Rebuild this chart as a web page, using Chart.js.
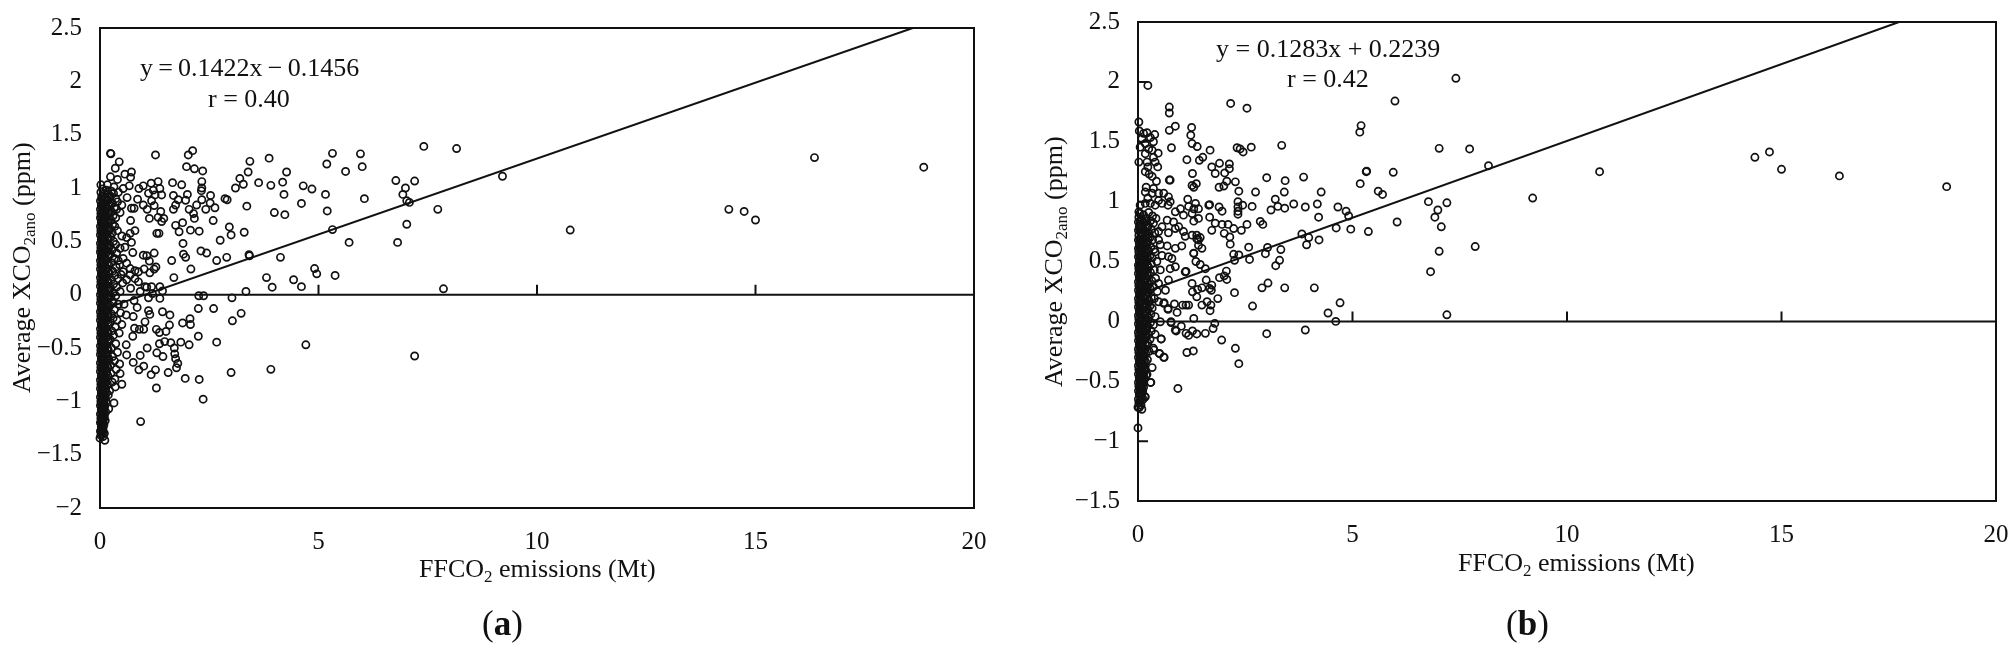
<!DOCTYPE html>
<html>
<head>
<meta charset="utf-8">
<title>XCO2 anomaly vs FFCO2 emissions</title>
<script src="https://cdn.jsdelivr.net/npm/chart.js@4"></script>
<style>
  html, body { margin: 0; padding: 0; background: #fff; }
  body { width: 2015px; height: 652px; position: relative; overflow: hidden; font-family: "Liberation Serif", serif; color: #111; }
  .box { position: absolute; top: 0; height: 652px; }
  .txt { position: absolute; font-size: 26px; line-height: 1; white-space: nowrap; }
  .txt sub { font-size: 17px; line-height: 0; vertical-align: -5px; }
  .rot { transform-origin: 0 0; transform: rotate(-90deg); }
  .cap { font-size: 35px; }
</style>
</head>
<body>
<div class="box" style="left:0;width:1005px"><canvas id="chartA"></canvas></div>
<div class="box" style="left:1030px;width:985px"><canvas id="chartB"></canvas></div>

<div class="txt" style="left:140px;top:55px;word-spacing:-1.3px">y = 0.1422x − 0.1456</div>
<div class="txt" style="left:208px;top:86px">r = 0.40</div>
<div class="txt rot" style="left:9px;top:393px">Average XCO<sub>2ano</sub> (ppm)</div>
<div class="txt" style="left:419px;top:556px">FFCO<sub>2</sub> emissions (Mt)</div>
<div class="txt cap" style="left:482px;top:606px">(<b>a</b>)</div>

<div class="txt" style="left:1216px;top:36px">y = 0.1283x + 0.2239</div>
<div class="txt" style="left:1287px;top:66px">r = 0.42</div>
<div class="txt rot" style="left:1041px;top:387px">Average XCO<sub>2ano</sub> (ppm)</div>
<div class="txt" style="left:1458px;top:550px">FFCO<sub>2</sub> emissions (Mt)</div>
<div class="txt cap" style="left:1506px;top:606px">(<b>b</b>)</div>

<script>
// panel (a) as [FFCO2, XCO2ano]
const scatterA = [
  [1.27,1.31],[2.02,1.31],[2.12,1.35],[1.98,1.2],[2.16,1.18],[2.35,1.16],[2.33,1.06],[2.33,1],[2.32,.975],[1.66,1.05],
  [1.87,1.03],[1.68,.93],[2,.94],[1.79,.89],[1.96,.885],[2.33,.89],[2.53,.93],[2.21,.84],[2.52,.86],[2.42,.8],
  [2.63,.815],[2.04,.8],[1.68,.8],[1.73,.84],[2.14,.76],[2.16,.715],[1.73,.65],[1.89,.675],[1.81,.59],[2.07,.605],
  [2.27,.595],[2.59,.695],[1.9,.48],[1.91,.38],[1.96,.35],[1.64,.32],[2.31,.41],[2.44,.39],[2.67,.32],[2.9,.35],
  [2.08,.24],[1.69,.16],[2.75,.51],[2.96,.635],[3,.56],[3.3,.585],[3.36,.83],[2.86,.9],[2.91,.89],[3.1,1],
  [3.2,1.09],[3.28,1.035],[3.39,1.15],[3.43,1.25],[3.63,1.05],[3.87,1.28],[3.91,1.025],[4.18,1.055],[4.27,1.15],[4.21,.94],
  [3.99,.77],[4.23,.75],[4.61,.855],[4.65,1.02],[4.85,.99],[5.16,.94],[5.2,.785],[5.19,1.225],[5.32,1.325],[5.62,1.155],
  [5.96,1.32],[6,1.2],[6.05,.9],[5.32,.61],[5.7,.49],[3.42,.365],[3.41,.375],[4.13,.35],[3.81,.16],[3.94,.07],
  [4.43,.14],[4.61,.075],[4.91,.245],[4.96,.195],[5.38,.18],[3.34,.03],[6.77,1.07],[6.99,1],[7.2,1.065],[6.93,.94],
  [7.02,.88],[7.08,.865],[7.73,.8],[7.02,.66],[6.81,.49],[7.41,1.39],[8.16,1.37],[7.86,.055],[9.21,1.11],[10.76,.606],
  [14.39,.8],[14.74,.78],[15,.7],[16.35,1.285],[18.85,1.195],
  [2.26,-.01],[2.37,-.01],[3.02,-.03],[2.6,-.13],[2.25,-.13],[3.23,-.175],[3.03,-.245],[2.06,-.225],[1.89,-.265],[2.07,-.28],
  [1.6,-.19],[1.43,-.16],[1.11,-.15],[1.14,-.185],[1.59,-.285],[1.29,-.325],[1.36,-.355],[1.51,-.345],[2.25,-.39],[2.67,-.445],
  [1.85,-.445],[2.04,-.47],[1.36,-.46],[1.48,-.44],[1.62,-.45],[1.7,-.5],[1.71,-.555],[1.73,-.6],[1.78,-.645],[1.75,-.685],
  [1.08,-.5],[1.3,-.545],[1.44,-.58],[.92,-.57],[.76,-.635],[1,-.67],[.89,-.705],[1.27,-.705],[1.17,-.75],[1.56,-.73],
  [1.29,-.875],[1.95,-.785],[2.27,-.795],[2.36,-.98],[3,-.73],[3.91,-.7],[4.71,-.47],[7.2,-.575],[.93,-1.19],[.11,-1.365],
  [0,-1.345],[.32,-1.015],[.5,-.84],[.35,-.865],[.19,-.94],[.2,-1.07],[.75,-.39],[.6,-.47],[.61,-.565],[.45,-.65],
  [.46,-.74],[.34,-.79],[.79,-.315],[1,-.325],[.9,-.325],[1.03,-.255],[.76,-.205],[.85,-.12],[.78,-.055],[.6,-.19],
  [.55,-.09],[.3,-.08],[1.37,.075],[1.43,.035],[1.37,-.035],[1.11,-.03],[1.07,.07],[1.2,.01],
  [.24,1.325],[.25,1.32],[.44,1.245],[.35,1.185],[.24,1.105],[.4,1.08],[.57,1.13],[.72,1.15],[.7,1.1],[.02,1.03],
  [.17,1.03],[.32,1.01],[.53,.995],[.67,1.02],[.62,.91],[.86,.895],[.89,.995],[.99,1.02],[1.17,1.045],[1.33,1.06],
  [1.37,.995],[1.22,.98],[1.11,.95],[1.26,.935],[1.41,.935],[1.18,.88],[.99,.84],[1.08,.8],[1.24,.835],[1.39,.78],
  [1.13,.715],[1.33,.725],[1.46,.715],[1.41,.685],[.7,.695],[.72,.81],[.78,.81],[.5,.84],[.46,.77],[1.3,.575],
  [1.35,.575],[.8,.6],[.69,.575],[.61,.535],[.72,.49],[.57,.445],[.46,.435],[.75,.395],[.38,.39],[.99,.37],
  [1.07,.365],[1.24,.39],[1.13,.315],[1.28,.26],[1.24,.24],[1.01,.24],[1.14,.205],[.8,.225],[.88,.215],[.53,.34],
  [.61,.295],[.69,.245],[.53,.215],[.69,.185],[.88,.12],[.8,.15],[.61,.14],[1.03,.075],[1.18,.075],[.92,.03]
];
// the dense column next to the y axis
const cloudA = [
  [.06,.99],[.15,.98],[.26,.97],[.02,.96],[.1,.95],[.2,.94],[.31,.95],[.42,.96],[.04,.92],[.13,.91],
  [.24,.92],[.36,.9],[.01,.88],[.08,.87],[.18,.88],[.28,.86],[.4,.87],[.03,.84],[.12,.83],[.22,.84],
  [.33,.82],[.01,.8],[.07,.79],[.16,.8],[.26,.78],[.38,.8],[.02,.76],[.11,.75],[.21,.76],[.3,.74],
  [.01,.72],[.06,.71],[.15,.72],[.25,.7],[.36,.72],[.03,.68],[.1,.67],[.19,.68],[.29,.66],[.01,.64],
  [.08,.63],[.14,.64],[.23,.62],[.34,.64],[.02,.6],[.11,.59],[.2,.6],[.28,.58],[.4,.6],[.01,.56],
  [.06,.55],[.16,.56],[.25,.54],[.5,.55],[.03,.52],[.1,.51],[.19,.52],[.31,.5],[.01,.48],[.07,.47],
  [.14,.48],[.23,.46],[.36,.47],[.02,.44],[.11,.43],[.2,.44],[.28,.42],[.01,.4],[.06,.39],[.16,.4],
  [.24,.38],[.03,.36],[.1,.35],[.19,.36],[.33,.34],[.42,.32],[.01,.32],[.07,.31],[.14,.32],[.26,.3],
  [.02,.28],[.11,.27],[.2,.28],[.37,.26],[.45,.28],[.01,.24],[.06,.23],[.16,.24],[.29,.22],[.03,.2],
  [.1,.19],[.21,.2],[.34,.18],[.48,.19],[.01,.16],[.07,.15],[.15,.16],[.26,.14],[.41,.15],[.02,.12],
  [.11,.11],[.19,.12],[.31,.1],[.52,.11],[.01,.08],[.06,.07],[.16,.08],[.24,.06],[.38,.07],[.7,.06],
  [.03,.04],[.1,.03],[.2,.04],[.3,.02],[.46,.03],[.01,0],[.07,-.01],[.14,0],[.25,-.02],[.36,-.01],
  [.02,-.04],[.11,-.05],[.19,-.04],[.28,-.06],[.01,-.08],[.06,-.09],[.16,-.08],[.23,-.1],[.42,-.09],[.03,-.12],
  [.1,-.13],[.2,-.12],[.33,-.14],[.01,-.16],[.07,-.17],[.15,-.16],[.26,-.18],[.47,-.17],[.02,-.2],[.11,-.21],
  [.19,-.2],[.3,-.22],[.39,-.24],[.01,-.24],[.06,-.25],[.16,-.24],[.24,-.26],[.03,-.28],[.1,-.29],[.2,-.28],
  [.35,-.3],[.5,-.28],[.01,-.32],[.07,-.33],[.14,-.32],[.27,-.34],[.02,-.36],[.11,-.37],[.19,-.36],[.31,-.38],
  [.44,-.36],[.01,-.4],[.06,-.41],[.16,-.4],[.23,-.42],[.03,-.44],[.1,-.45],[.2,-.44],[.36,-.46],[.01,-.48],
  [.07,-.49],[.14,-.48],[.26,-.5],[.02,-.52],[.11,-.53],[.19,-.52],[.4,-.54],[.01,-.56],[.06,-.57],[.16,-.56],
  [.29,-.58],[.03,-.6],[.1,-.61],[.2,-.6],[.33,-.62],[.01,-.64],[.07,-.65],[.14,-.64],[.24,-.66],[.02,-.68],
  [.11,-.69],[.18,-.68],[.37,-.7],[.01,-.72],[.06,-.73],[.15,-.72],[.25,-.74],[.03,-.76],[.1,-.77],[.18,-.76],
  [.01,-.8],[.07,-.81],[.13,-.8],[.28,-.82],[.02,-.84],[.09,-.85],[.17,-.84],[.01,-.88],[.05,-.89],[.13,-.88],
  [.22,-.9],[.03,-.92],[.09,-.93],[.15,-.92],[.01,-.96],[.06,-.97],[.12,-.96],[.02,-1],[.08,-1.01],[.14,-1],
  [.01,-1.04],[.05,-1.05],[.11,-1.04],[.03,-1.08],[.08,-1.09],[.13,-1.1],[.01,-1.12],[.06,-1.13],[.1,-1.14],[.02,-1.16],
  [.07,-1.17],[.12,-1.18],[.01,-1.2],[.05,-1.21],[.09,-1.22],[.03,-1.24],[.07,-1.25],[.01,-1.28],[.05,-1.29],[.1,-1.3],
  [.02,-1.32],[.07,-1.33]
];
// second pass over the black core of that column
const coreA = [
  [.04,.9],[.17,.89],[.09,.86],[.2,.85],[.04,.82],[.14,.81],[.09,.78],[.19,.77],[.03,.74],[.13,.73],
  [.08,.7],[.18,.69],[.04,.66],[.12,.65],[.09,.61],[.17,.61],[.04,.58],[.14,.57],[.08,.53],[.17,.53],
  [.04,.5],[.12,.49],[.09,.45],[.17,.45],[.03,.42],[.14,.41],[.08,.37],[.19,.38],[.04,.34],[.12,.33],
  [.09,.29],[.17,.29],[.04,.26],[.14,.25],[.08,.21],[.19,.22],[.04,.18],[.12,.17],[.09,.13],[.17,.13],
  [.04,.1],[.14,.09],[.08,.05],[.19,.06],[.04,.02],[.12,.01],[.09,-.03],[.17,-.02],[.04,-.06],[.14,-.07],
  [.08,-.11],[.18,-.1],[.04,-.14],[.12,-.15],[.09,-.19],[.17,-.18],[.04,-.22],[.14,-.23],[.08,-.27],[.18,-.26],
  [.04,-.3],[.12,-.31],[.09,-.35],[.17,-.34],[.04,-.38],[.14,-.39],[.08,-.43],[.18,-.42],[.04,-.46],[.12,-.47],
  [.09,-.51],[.17,-.5],[.04,-.54],[.14,-.55],[.08,-.59],[.17,-.58],[.04,-.62],[.12,-.63],[.09,-.67],[.16,-.66],
  [.04,-.7],[.12,-.71],[.08,-.75],[.15,-.74],[.04,-.78],[.11,-.79],[.07,-.83],[.14,-.82],[.04,-.86],[.1,-.87],
  [.07,-.91],[.12,-.9],[.04,-.94],[.09,-.95],[.05,-.99],[.11,-.98],[.03,-1.02],[.08,-1.03],[.05,-1.07],[.1,-1.06],
  [.03,-1.1],[.08,-1.11],[.04,-1.15],[.09,-1.16],[.03,-1.19],[.07,-1.2],[.04,-1.23],[.03,-1.27],[.07,-1.28],[.04,-1.31]
];
const trendA = [[0,-.1456],[18.6,2.5]];

// panel (b)
const scatterB = [
  [.23,1.97],[.73,1.79],[.73,1.74],[.73,1.595],[.87,1.63],[.78,1.45],[1.25,1.62],[1.23,1.555],[1.26,1.485],[1.38,1.46],
  [1.68,1.43],[2.16,1.82],[2.54,1.78],[2.31,1.45],[2.38,1.44],[2.45,1.415],[2.64,1.455],[3.35,1.47],[5.17,1.58],[5.2,1.635],
  [5.99,1.84],[7.41,2.03],[7.02,1.445],[7.73,1.44],[8.17,1.3],[1.14,1.35],[1.43,1.345],[1.51,1.37],[1.72,1.29],[1.9,1.32],
  [2.13,1.315],[2.13,1.275],[1.8,1.235],[2.02,1.24],[1.27,1.235],[.75,1.18],[2.07,1.17],[2.27,1.165],[1.89,1.12],[2,1.13],
  [1.26,1.135],[1.36,1.15],[1.3,1.12],[2.35,1.087],[2.74,1.08],[3,1.2],[3.43,1.175],[3.86,1.205],[3.41,1.08],[4.27,1.08],
  [3.2,1.02],[3.63,.98],[3.26,.96],[3.42,.945],[3.1,.93],[3.9,.955],[4.18,.98],[4.21,.87],[4.66,.955],[4.85,.92],
  [4.91,.88],[4.62,.78],[4.96,.77],[5.32,1.25],[5.33,1.255],[5.18,1.15],[5.95,1.245],[5.6,1.087],[5.7,1.06],[5.37,.75],
  [6.04,.83],[6.77,1],[7.2,.99],[6.99,.93],[6.92,.87],[7.07,.79],[7.02,.585],[7.86,.625],[6.82,.415],[7.2,.055],
  [9.2,1.03],[10.76,1.25],[14.38,1.37],[14.72,1.415],[15,1.27],[16.35,1.215],[18.85,1.125],
  [1.65,.97],[1.67,.975],[1.89,.955],[1.96,.92],[2.33,1],[2.33,.955],[2.33,.92],[2.33,.895],[2.44,.97],[2.66,.96],
  [1.67,.87],[1.8,.82],[1.96,.81],[2.1,.81],[2.23,.775],[1.72,.76],[2.01,.735],[2.14,.705],[2.15,.645],[2.41,.76],
  [2.54,.81],[2.85,.835],[2.91,.81],[2.23,.56],[2.35,.555],[2.58,.62],[3.02,.617],[3.33,.6],[2.97,.565],[2.6,.517],
  [2.25,.51],[3.3,.51],[3.21,.465],[3.82,.73],[3.98,.7],[3.93,.64],[4.22,.68],[1.49,.61],[1.37,.69],[1.45,.7],
  [1.41,.635],[1.3,.57],[1.35,.5],[1.45,.475],[1.57,.44],[1.12,.417],[2.06,.42],[2.01,.38],[1.9,.365],[2.07,.35],
  [1.59,.345],[1.26,.317],[1.72,.303],[1.49,.28],[1.39,.267],[1.27,.247],[1.67,.275],[1.71,.26],[1.86,.19],[2.25,.24],
  [2.89,.28],[3.03,.32],[3.42,.28],[4.11,.28],[2.67,.128],[4.43,.07],[4.71,.155],[4.61,0],[1.37,.205],[1.49,.136],
  [1.61,.164],[1.7,.136],[1.68,.089],[1.3,.025],[.85,.145],[1.04,.136],[1.12,.136],[1.18,.136],[.7,.108],[.91,.075],
  [.61,.155],[.77,-.01],[1.01,-.04],[.89,-.08],[1.12,-.1],[1.18,-.117],[1.27,-.08],[1.37,-.105],[1.57,-.1],[1.75,-.06],
  [1.79,-.017],[1.95,-.156],[2.27,-.225],[2.35,-.353],[3,-.103],[3.9,-.072],[1.14,-.26],[1.29,-.247],[.93,-.56],[.61,-.3],
  [.5,-.27],[.54,-.147],[.4,-.108],[.33,-.386],[.3,-.51],[.21,-.442],[.17,-.63],[.09,-.734],[0,-.89],[0,-.717],
  [.37,-.24],[.02,1.665],[.03,1.59],[.13,1.57],[.21,1.575],[.39,1.56],[.09,1.525],[.29,1.535],[.36,1.5],[.05,1.455],
  [.17,1.485],[.25,1.44],[.33,1.43],[.47,1.405],[.17,1.4],[.36,1.37],[.4,1.33],[.02,1.33],[.21,1.33],[.46,1.29],
  [.23,1.29],[.17,1.25],[.26,1.23],[.33,1.21],[.43,1.17],[.73,1.18],[.19,1.12],[.17,1.08],[.36,1.11],[.33,1.07],
  [.48,1.07],[.6,1.07],[.71,1.04],[.23,1.03],[.48,1.01],[.75,1],[.7,.97],[.02,.915],[.05,.97],[.17,.985],
  [.29,.985],[.4,.97],[.56,.985],[.87,.915],[.99,.94],[1.16,1.02],[1.18,.96],[1.34,.985],[1.41,.94],[1.3,.94],
  [1.06,.887],[1.26,.9],[1.41,.86],[1.3,.837],[.68,.845],[.83,.83],[.95,.79],[.71,.74],[1.06,.75],[1.1,.71],
  [.48,.75],[.56,.79],[.87,.775],[1.26,.72],[1.37,.72],[1.41,.68],[1.3,.567],[1.02,.63],[.87,.61],[.68,.63],
  [.48,.68],[.52,.64],[.4,.58],[.56,.55],[.71,.54],[.79,.525],[1.1,.414],[.52,.43],[.75,.44],[.87,.456],
  [.71,.345],[.48,.317],[.64,.26],[.48,.164],[.6,.15],[.7,.1],[.77,-.003],[.52,-.003],[.4,.04],[.36,-.03],
  [.54,-.147],[.36,-.225],[.5,-.267],[.6,-.3],[.87,-.072],[.19,-.448],[.29,-.51],[.16,-.63]
];
const cloudB = [
  [.04,.9],[.13,.89],[.25,.91],[.34,.88],[.02,.87],[.09,.85],[.19,.86],[.29,.84],[.42,.86],[.01,.83],
  [.06,.81],[.15,.82],[.24,.8],[.36,.82],[.03,.79],[.11,.78],[.2,.79],[.31,.77],[.01,.76],[.07,.74],
  [.16,.75],[.26,.73],[.39,.74],[.02,.72],[.1,.71],[.19,.72],[.28,.7],[.01,.68],[.06,.67],[.14,.68],
  [.23,.66],[.34,.68],[.03,.65],[.11,.63],[.2,.64],[.3,.62],[.01,.61],[.07,.6],[.16,.61],[.25,.59],
  [.37,.6],[.02,.58],[.1,.56],[.19,.57],[.28,.55],[.01,.54],[.06,.53],[.14,.54],[.23,.52],[.33,.53],
  [.03,.51],[.11,.49],[.2,.5],[.31,.48],[.44,.5],[.01,.47],[.07,.46],[.16,.47],[.25,.45],[.02,.44],
  [.1,.42],[.19,.43],[.29,.41],[.38,.43],[.01,.4],[.06,.39],[.14,.4],[.23,.38],[.03,.37],[.11,.35],
  [.2,.36],[.32,.34],[.41,.36],[.01,.33],[.07,.32],[.16,.33],[.26,.31],[.02,.3],[.1,.28],[.19,.29],
  [.29,.27],[.36,.29],[.01,.26],[.06,.25],[.14,.26],[.23,.24],[.45,.25],[.03,.23],[.11,.21],[.2,.22],
  [.31,.2],[.01,.19],[.07,.18],[.16,.19],[.26,.17],[.38,.19],[.02,.16],[.1,.14],[.19,.15],[.28,.13],
  [.01,.12],[.06,.11],[.14,.12],[.23,.1],[.33,.11],[.03,.09],[.11,.07],[.2,.08],[.3,.06],[.01,.05],
  [.07,.04],[.16,.05],[.25,.03],[.02,.02],[.1,0],[.19,.01],[.29,-.01],[.01,-.02],[.06,-.03],[.14,-.02],
  [.23,-.04],[.03,-.05],[.11,-.07],[.2,-.06],[.31,-.08],[.01,-.09],[.07,-.1],[.16,-.09],[.25,-.11],[.02,-.12],
  [.1,-.14],[.19,-.13],[.28,-.15],[.01,-.16],[.06,-.17],[.14,-.16],[.23,-.18],[.03,-.19],[.11,-.21],[.2,-.2],
  [.01,-.23],[.07,-.24],[.16,-.23],[.26,-.25],[.02,-.26],[.1,-.28],[.18,-.27],[.01,-.3],[.06,-.31],[.14,-.3],
  [.22,-.32],[.03,-.33],[.11,-.35],[.18,-.34],[.01,-.37],[.07,-.38],[.14,-.37],[.02,-.4],[.1,-.42],[.17,-.41],
  [.01,-.44],[.06,-.45],[.13,-.44],[.03,-.47],[.09,-.49],[.15,-.48],[.01,-.51],[.06,-.52],[.12,-.51],[.02,-.54],
  [.08,-.56],[.13,-.55],[.01,-.58],[.05,-.59],[.11,-.58],[.03,-.61],[.08,-.63],[.01,-.65],[.05,-.66],[.02,-.68],
  [.07,-.7],[.03,-.72],[.1,-.6],[.12,-.65]
];
const coreB = [
  [.05,.83],[.17,.84],[.1,.8],[.22,.78],[.04,.77],[.13,.76],[.08,.72],[.17,.7],[.24,.7],[.04,.69],
  [.12,.66],[.2,.67],[.08,.64],[.17,.63],[.04,.62],[.13,.6],[.21,.59],[.08,.57],[.17,.55],[.04,.55],
  [.12,.52],[.21,.54],[.08,.5],[.17,.49],[.04,.48],[.13,.46],[.22,.47],[.08,.44],[.17,.42],[.04,.42],
  [.12,.39],[.21,.4],[.08,.37],[.17,.36],[.04,.35],[.13,.33],[.22,.33],[.08,.3],[.17,.29],[.04,.28],
  [.12,.25],[.21,.27],[.08,.23],[.17,.22],[.04,.21],[.13,.19],[.22,.2],[.08,.16],[.17,.15],[.04,.14],
  [.12,.12],[.21,.13],[.08,.09],[.17,.08],[.04,.07],[.13,.05],[.21,.06],[.08,.02],[.17,.01],[.04,0],
  [.12,-.02],[.2,-.01],[.08,-.05],[.17,-.05],[.04,-.07],[.13,-.09],[.2,-.08],[.08,-.12],[.17,-.12],[.04,-.14],
  [.12,-.15],[.08,-.19],[.17,-.18],[.04,-.21],[.12,-.22],[.08,-.26],[.15,-.25],[.04,-.28],[.12,-.29],[.08,-.33],
  [.15,-.32],[.04,-.35],[.11,-.36],[.08,-.4],[.14,-.39],[.04,-.42],[.1,-.43],[.07,-.47],[.13,-.46],[.04,-.49],
  [.09,-.5],[.06,-.54],[.11,-.53],[.04,-.56],[.08,-.6],[.05,-.62],[.09,-.66],[.04,-.68]
];
const trendB = [[0,.2239],[17.74,2.5]];

const zeroLine = [[0,0],[20,0]];
const xTicks = [5,10,15];
const yMarksA = [];
const yMarksB = [2,1.5,1,.5,-.5,-1];

const ink = '#111';
const tickFont = { family: '"Liberation Serif", serif', size: 25 };

const toXY = (p) => ({ x: p[0], y: p[1] });

// frame and the short inward ticks, excel style
const framePlugin = {
  id: 'frame',
  beforeDatasetsDraw(chart, args, opts) {
    const { ctx, chartArea: a, scales } = chart;
    ctx.save();
    ctx.strokeStyle = ink;
    ctx.lineWidth = 2;
    ctx.strokeRect(a.left, a.top, a.right - a.left, a.bottom - a.top);
    const zero = scales.y.getPixelForValue(0);
    ctx.beginPath();
    xTicks.forEach((v) => {
      const px = scales.x.getPixelForValue(v);
      ctx.moveTo(px, zero);
      ctx.lineTo(px, zero - 10);
    });
    opts.yMarks.forEach((v) => {
      const py = scales.y.getPixelForValue(v);
      ctx.moveTo(a.left, py);
      ctx.lineTo(a.left + 10, py);
    });
    ctx.stroke();
    ctx.restore();
  }
};

// the tick padding must not eat into the plot box
const noScalePadding = (s) => {
  s.paddingTop = 0;
  s.paddingBottom = 0;
  s.paddingLeft = 0;
  s.paddingRight = 0;
};

function makeChart(id, points, trend, yMin, yMarks, area, size) {
  const canvas = document.getElementById(id);
  canvas.width = size.w;
  canvas.height = size.h;
  return new Chart(canvas, {
    type: 'scatter',
    data: {
      datasets: [
        {
          data: points.map(toXY),
          showLine: false,
          pointStyle: 'circle',
          pointRadius: 3.6,
          pointBorderWidth: 1.7,
          pointBackgroundColor: 'rgba(0,0,0,0)',
          pointBorderColor: ink,
          clip: false
        },
        { data: trend.map(toXY), showLine: true, borderColor: ink, borderWidth: 2, pointRadius: 0 },
        { data: zeroLine.map(toXY), showLine: true, borderColor: ink, borderWidth: 2, pointRadius: 0 }
      ]
    },
    plugins: [framePlugin],
    options: {
      responsive: false,
      animation: false,
      events: [],
      layout: { padding: { top: area.top, right: area.right, left: 0, bottom: 0 } },
      plugins: { legend: { display: false }, tooltip: { enabled: false }, frame: { yMarks } },
      scales: {
        x: {
          type: 'linear',
          min: 0,
          max: 20,
          grid: { display: false, drawTicks: false },
          border: { display: false },
          afterFit: (s) => { s.height = area.bottom; noScalePadding(s); },
          ticks: { stepSize: 5, color: ink, font: tickFont, padding: 19, maxRotation: 0 }
        },
        y: {
          type: 'linear',
          min: yMin,
          max: 2.5,
          grid: { display: false, drawTicks: false },
          border: { display: false },
          afterFit: (s) => { s.width = area.left; noScalePadding(s); },
          ticks: {
            stepSize: .5,
            color: ink,
            font: tickFont,
            padding: 18,
            callback: (v) => String(v).replace('-', '\u2212')
          }
        }
      }
    }
  });
}

makeChart('chartA', scatterA.concat(cloudA, coreA), trendA, -2, yMarksA,
  { left: 100, top: 28, right: 31, bottom: 144 }, { w: 1005, h: 652 });
makeChart('chartB', scatterB.concat(cloudB, coreB), trendB, -1.5, yMarksB,
  { left: 108, top: 22, right: 19, bottom: 151 }, { w: 985, h: 652 });
</script>
</body>
</html>
